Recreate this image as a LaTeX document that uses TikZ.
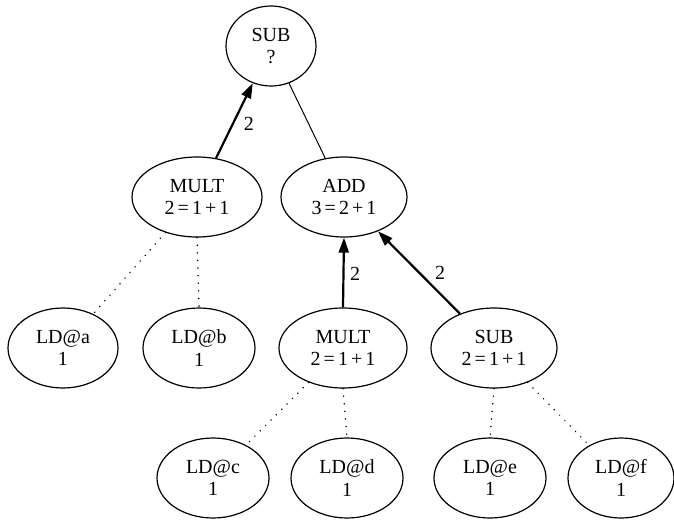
\documentclass[tikz,border=0pt]{standalone}
\usepackage{fontspec}
\setmainfont{Liberation Serif}[WordSpace=0.6]
\usetikzlibrary{arrows.meta,shapes.geometric}
\begin{document}
\begin{tikzpicture}[x=1pt,y=-1pt,
  op/.style={draw, ellipse, line width=1.2pt, inner sep=0pt,
    minimum width=#1, minimum height=80pt, align=center,
    font=\fontsize{20}{22.5}\selectfont},
  op/.default=128pt,
  flow/.style={line width=2.2pt, -{Triangle[length=15pt,width=10pt]}},
  plain/.style={line width=1pt},
  leaf/.style={line width=1.6pt, line cap=round, dash pattern=on 0.1pt off 7.5pt},
  wlabel/.style={font=\fontsize{20}{22}\selectfont, inner sep=0pt}]
\useasboundingbox (0,0) rectangle (674,519);

% expression tree
\node[op=90pt]  (root)  at (271,46)  {SUB\\?};
\node[op=130pt] (mult1) at (197,197) {MULT\\2 = 1 + 1};
\node[op=126pt] (add)   at (344,197) {ADD\\3 = 2 + 1};
\node[op=110pt] (lda)   at (63,348)  {LD@a\\1};
\node[op=112pt] (ldb)   at (199,348) {LD@b\\1};
\node[op=128pt] (mult2) at (343,348) {MULT\\2 = 1 + 1};
\node[op=126pt] (sub2)  at (494,348) {SUB\\2 = 1 + 1};
\node[op=112pt] (ldc)   at (213,478) {LD@c\\1};
\node[op=112pt] (ldd)   at (347,478) {LD@d\\1};
\node[op=112pt] (lde)   at (490,478) {LD@e\\1};
\node[op=106pt] (ldf)   at (621,478) {LD@f\\1};

% weighted edges
\draw[flow] (mult1) -- node[wlabel, xshift=14.5pt, yshift=-3.5pt] {2} (root);
\draw[plain] (root) -- (add);
\draw[flow] (mult2.north) -- node[wlabel, xshift=11.5pt, yshift=-1.5pt] {2} (add.south);
\draw[flow] (sub2) -- node[wlabel, xshift=21pt, yshift=0pt] {2} (add);

% loads
\draw[leaf] (mult1) -- (lda);
\draw[leaf] (mult1.south) -- (ldb.north);
\draw[leaf] (mult2) -- (ldc);
\draw[leaf] (mult2.south) -- (ldd.north);
\draw[leaf] (sub2.south) -- (lde.north);
\draw[leaf] (sub2) -- (ldf);
\end{tikzpicture}
\end{document}
